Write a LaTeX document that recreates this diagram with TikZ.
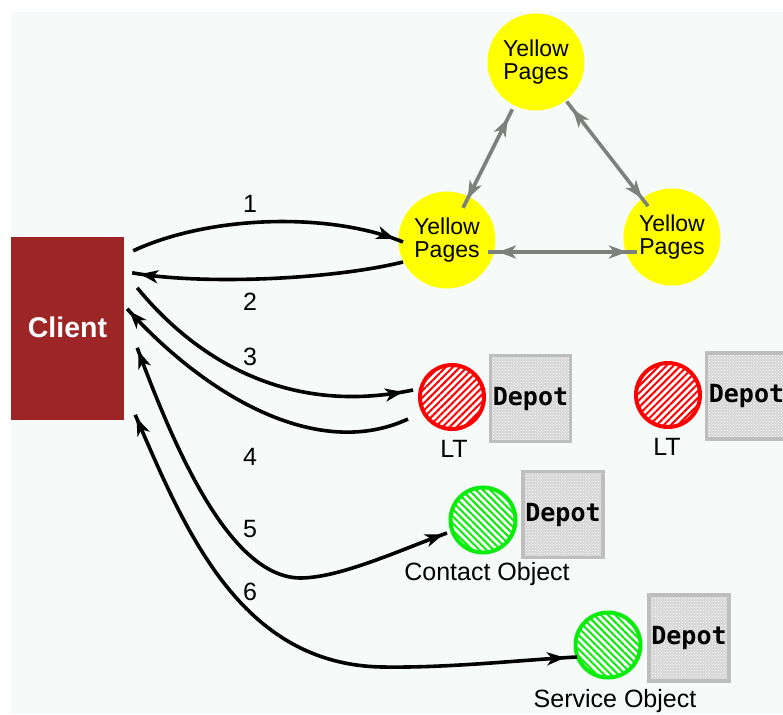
\documentclass[tikz,border=0pt]{standalone}
\usepackage{fontspec}
\setmainfont{Liberation Sans}
\newfontfamily\depotfont{DejaVu Sans Mono}
\usetikzlibrary{arrows.meta,decorations.markings,patterns,patterns.meta,calc}

\definecolor{bgtint}{RGB}{246,250,248}
\definecolor{clientred}{RGB}{156,37,38}
\definecolor{ypyellow}{RGB}{255,255,0}
\definecolor{linkgray}{RGB}{125,129,126}
\definecolor{ltred}{RGB}{255,0,0}
\definecolor{objgreen}{RGB}{10,236,10}
\definecolor{depotedge}{RGB}{190,190,190}
\definecolor{depotfill}{RGB}{214,214,214}

\begin{document}
\begin{tikzpicture}[x=1pt,y=-1pt,
  client/.style={rectangle, fill=clientred, minimum width=113pt, minimum height=183pt,
    inner sep=0pt, text=white, font=\bfseries\fontsize{28.5}{28.5}\selectfont},
  yp/.style={circle, fill=ypyellow, minimum size=97pt, inner sep=0pt, align=center,
    font=\fontsize{23}{23}\selectfont},
  ltball/.style={circle, minimum size=64pt, inner sep=0pt, draw=ltred, line width=4pt,
    preaction={fill=white},
    pattern={Lines[angle=45,distance=5pt,line width=2pt]}, pattern color=ltred},
  objball/.style={circle, minimum size=65pt, inner sep=0pt, draw=objgreen, line width=4pt,
    preaction={fill=white},
    pattern={Lines[angle=-45,distance=5pt,line width=2pt]}, pattern color=objgreen},
  depot/.style={rectangle, minimum width=80pt, minimum height=86pt, inner sep=0pt,
    draw=depotedge, line width=3.5pt, preaction={fill=depotfill},
    pattern=crosshatch dots, pattern color=white,
    font=\depotfont\bfseries\fontsize{25}{25}\selectfont},
  lbl/.style={inner sep=0pt, anchor=base, font=\fontsize{25}{25}\selectfont},
  flow/.style={draw=black, line width=3.6pt},
  link/.style={draw=linkgray, line width=3.6pt},
  tipend/.style={postaction={decorate, decoration={markings,
    mark=at position -#1 with {\arrow{Stealth[length=18pt,width=13pt,inset=5pt]}}}}},
  tipstart/.style={postaction={decorate, decoration={markings,
    mark=at position #1 with {\arrowreversed{Stealth[length=18pt,width=13pt,inset=5pt]}}}}},
]
\useasboundingbox (0,0) rectangle (783,714);
\fill[white] (0,0) rectangle (783,714);
\fill[bgtint] (11,12) rectangle (783,714);

% client and the three yellow pages servers
\node[client] (client) at (67.5,328.5) {\raisebox{3pt}{Client}};
\node[yp] (yp2) at (536,62) {Yellow\\Pages};
\node[yp] (yp1) at (447,240) {Yellow\\Pages};
\node[yp] (yp3) at (672,237) {Yellow\\Pages};

% lookup targets, contact and service objects
\node[ltball] (lt1) at (452,397) {};
\node[ltball] (lt2) at (668,395) {};
\node[objball] (co) at (483,520) {};
\node[objball] (so) at (608,645) {};

% depots beside each object
\node[depot] (d1) at (530.5,398.5) {Depot};
\node[depot] (d2) at (746.5,396) {Depot};
\node[depot] (d3) at (563,514.5) {Depot};
\node[depot] (d4) at (689,638) {Depot};

% captions
\node[lbl] (lt1name) at (454,457) {LT};
\node[lbl] (lt2name) at (667,455) {LT};
\node[lbl] (coname) at (487,580) {Contact Object};
\node[lbl] (soname) at (615,707) {Service Object};

% step numbers
\node[lbl] (n1) at (250,212) {1};
\node[lbl] (n2) at (250,310) {2};
\node[lbl] (n3) at (250,365) {3};
\node[lbl] (n4) at (250,465) {4};
\node[lbl] (n5) at (250,537) {5};
\node[lbl] (n6) at (250,600) {6};

% links between yellow pages servers
\draw[link, tipstart=10pt, tipend=10pt]
  ($(yp1.center)!36pt!(yp2.center)$) -- ($(yp2.center)!53pt!(yp1.center)$);
\draw[link, tipstart=10pt, tipend=10pt]
  ($(yp2.center)!50pt!(yp3.center)$) -- ($(yp3.center)!39pt!(yp2.center)$);
\draw[link, tipstart=10pt, tipend=10pt]
  ([shift={(41,12)}]yp1.center) -- ([shift={(-35,15)}]yp3.center);

% message flow from the client
\draw[flow, tipend=9pt]
  ([shift={(9,14)}]client.north east) .. controls (210,215) and (330,212) ..
  ([shift={(-44,2)}]yp1.center);
\draw[flow, tipend=8pt]
  ([shift={(-44,22)}]yp1.center) .. controls (330,280) and (200,285) ..
  ([shift={(8,36)}]client.north east);
\draw[flow, tipend=10pt]
  ([shift={(13,51)}]client.north east) .. controls (180,340) and (270,420) ..
  ([shift={(-39,-7)}]lt1.center);
\draw[flow, tipend=3pt]
  ([shift={(-44,22)}]lt1.center) .. controls (320,460) and (210,400) ..
  ([shift={(3,72)}]client.north east);
\draw[flow, tipstart=3pt, tipend=4pt]
  ([shift={(13,111)}]client.north east) .. controls (175,450) and (230,577) .. (300,578)
  .. controls (340,578) and (400,550) .. ([shift={(-36,13)}]co.center);
\draw[flow, tipstart=3pt, tipend=12pt]
  ([shift={(11,178)}]client.north east) .. controls (185,530) and (240,665) .. (383,667)
  .. controls (450,668) and (520,660) .. ([shift={(-31,12)}]so.center);
\end{tikzpicture}
\end{document}
